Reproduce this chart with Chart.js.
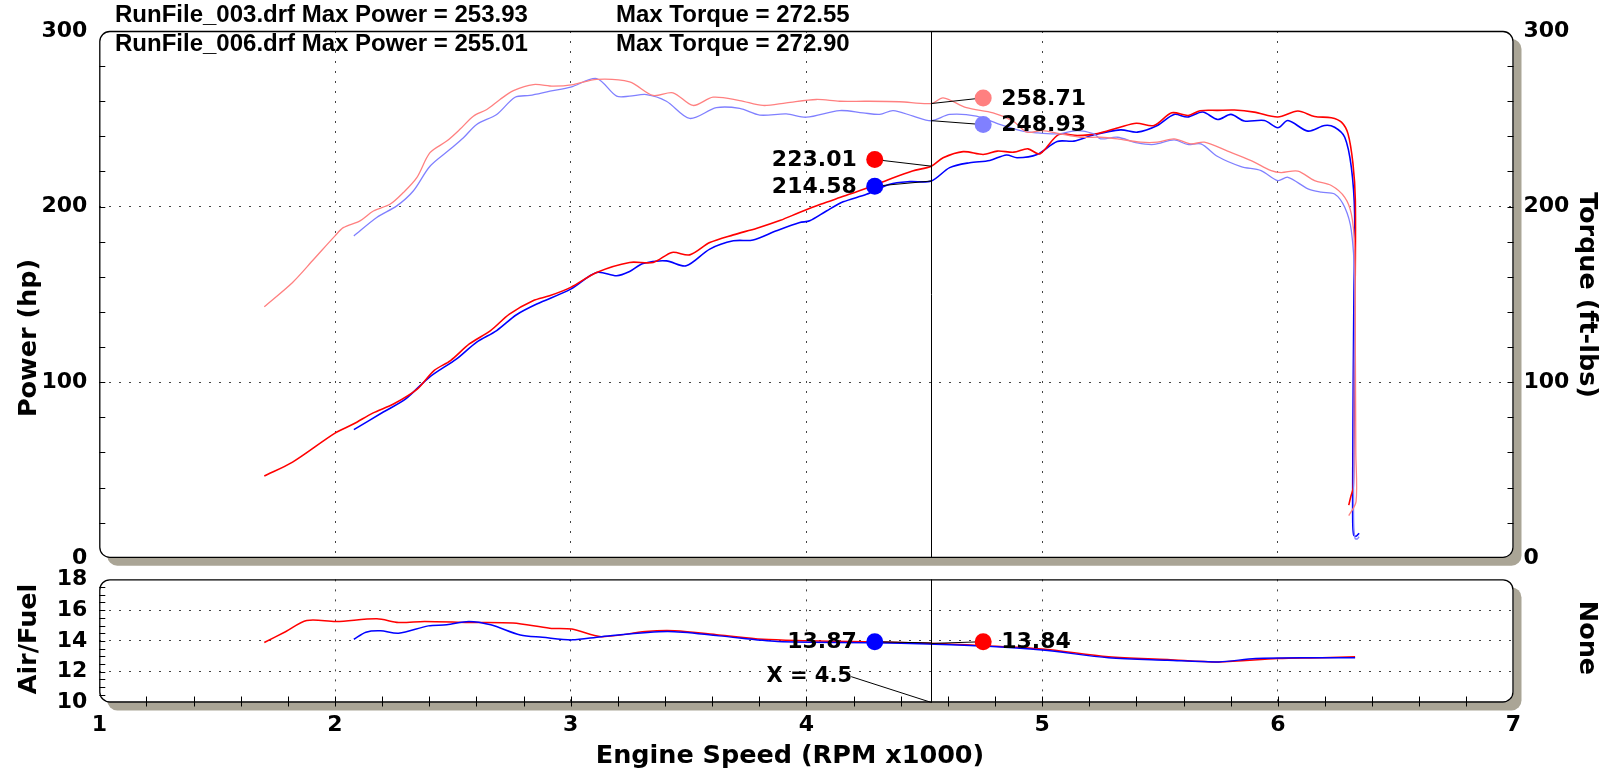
<!DOCTYPE html>
<html>
<head>
<meta charset="utf-8">
<title>Dyno Run Comparison</title>
<script src="https://cdn.jsdelivr.net/npm/chart.js@4.4.1/dist/chart.umd.min.js"></script>
<style>
  html, body { margin: 0; padding: 0; background: #fff; }
  #sheet { position: relative; width: 1608px; height: 770px; overflow: hidden; }
  canvas { position: absolute; left: 0; }
  #powerCanvas { top: 0; }
  #afrCanvas { top: 540px; }
</style>
</head>
<body>
<div id="sheet">
  <canvas id="powerCanvas" width="1608" height="583"></canvas>
  <canvas id="afrCanvas" width="1608" height="230"></canvas>
</div>
<script>
// Run info shown in the header
const runFiles = ["RunFile_003.drf", "RunFile_006.drf"];
const maxPower = ["253.93", "255.01"];
const maxTorque = ["272.55", "272.90"];

// Cursor readouts (at the vertical cursor line)
const cursorRpm = 4.53;
const cursorLabel = "4.5";
const torqueReadout = [258.71, 248.93];   // light red, light blue
const powerReadout = [223.01, 214.58];    // red, blue
const afrReadout = [13.87, 13.84];        // blue, red

// Red run - power (hp)
const redPowerRpm = [1.70, 1.82, 2.0, 2.08, 2.16, 2.25, 2.35, 2.42, 2.49, 2.57, 2.66, 2.74, 2.84, 2.91, 3.0, 3.11, 3.25, 3.35, 3.43, 3.505, 3.59, 3.69, 3.79, 3.89, 3.97, 4.06, 4.16, 4.26, 4.35, 4.45, 4.53, 4.58, 4.665, 4.75, 4.81, 4.88, 4.94, 4.99, 5.07, 5.15, 5.23, 5.33, 5.40, 5.475, 5.55, 5.62, 5.67, 5.745, 5.816, 5.90, 6.0, 6.085, 6.156, 6.227, 6.27, 6.298, 6.319, 6.329, 6.328, 6.325, 6.322, 6.32, 6.31, 6.301];
const redPower = [46.6, 54.5, 71, 76.3, 82.4, 87.7, 96.2, 106.6, 112.3, 121.8, 129.4, 138.8, 146.4, 149.2, 154, 162.5, 168.2, 168.2, 173.9, 172.5, 179.5, 183.9, 187.7, 192.2, 196.6, 201.3, 206, 210.8, 215.5, 220.3, 223.0, 227.8, 231.3, 229.7, 231.6, 231, 232.9, 230, 241, 240.5, 241.4, 245.2, 247.5, 246.2, 253.4, 251.9, 254.6, 254.8, 255.0, 253.8, 251, 254.4, 251.3, 250.6, 248.1, 241.4, 224.3, 203.4, 150, 100, 60, 40, 35, 30];

// Blue run - power (hp)
const bluePowerRpm = [2.08, 2.205, 2.30, 2.40, 2.516, 2.60, 2.686, 2.77, 2.856, 3.0, 3.11, 3.195, 3.25, 3.307, 3.406, 3.49, 3.59, 3.69, 3.774, 3.873, 3.972, 4.014, 4.085, 4.156, 4.255, 4.354, 4.438, 4.53, 4.608, 4.693, 4.778, 4.849, 4.894, 4.979, 5.064, 5.135, 5.22, 5.333, 5.404, 5.489, 5.56, 5.617, 5.681, 5.745, 5.801, 5.858, 5.943, 6.0, 6.043, 6.128, 6.199, 6.241, 6.284, 6.312, 6.326, 6.323, 6.32, 6.318, 6.318, 6.322, 6.332, 6.345];
const bluePower = [73, 83, 90.5, 102.8, 113.3, 122.7, 129.4, 138.4, 144.5, 153, 162.5, 160.6, 163, 167.6, 169.1, 166.3, 175.8, 180.5, 181, 186.2, 190.9, 191.9, 197.5, 202.7, 207, 212.7, 214.2, 214.6, 222.2, 225, 226.3, 229.4, 227.8, 229.7, 237.1, 237.3, 240.9, 243.7, 242.4, 246.2, 252.5, 251, 253.9, 249.6, 252.5, 248.7, 249, 244.9, 249, 243, 246.2, 245.2, 239.5, 222.4, 195.8, 150, 100, 50, 20, 13, 12.3, 14];

// Red run - torque (ft-lbs)
const redTorqueRpm = [1.70, 1.82, 1.91, 2.0, 2.035, 2.106, 2.163, 2.233, 2.29, 2.347, 2.403, 2.474, 2.53, 2.587, 2.644, 2.70, 2.757, 2.842, 2.926, 3.011, 3.11, 3.25, 3.349, 3.434, 3.519, 3.604, 3.717, 3.816, 3.915, 4.042, 4.141, 4.255, 4.396, 4.53, 4.58, 4.679, 4.792, 4.877, 4.936, 5.0, 5.078, 5.163, 5.248, 5.319, 5.418, 5.489, 5.56, 5.631, 5.688, 5.787, 5.887, 5.972, 6.014, 6.085, 6.156, 6.227, 6.284, 6.312, 6.326, 6.329, 6.331, 6.332, 6.301];
const redTorque = [143, 156.8, 170, 183.3, 188, 191.9, 197.5, 201.3, 208, 216.5, 230.7, 237.3, 244, 251.5, 255.3, 261, 266, 269.5, 268.6, 269.5, 272.5, 271, 263.3, 264.8, 257.6, 262.3, 260.4, 257.6, 259.1, 261, 260, 260, 259.7, 258.7, 261.9, 256.3, 253.4, 248.7, 242.4, 243.3, 241.4, 239.5, 239.5, 238.6, 236.7, 236.7, 238.6, 235.7, 236.7, 231.6, 226.2, 220.5, 219.4, 220.2, 214.8, 212, 205.3, 195.8, 176.8, 120, 60, 32, 24];

// Blue run - torque (ft-lbs)
const blueTorqueRpm = [2.08, 2.177, 2.262, 2.332, 2.403, 2.488, 2.545, 2.601, 2.686, 2.764, 2.827, 2.912, 3.0, 3.11, 3.195, 3.25, 3.321, 3.406, 3.505, 3.618, 3.717, 3.802, 3.915, 4.0, 4.141, 4.24, 4.311, 4.368, 4.453, 4.53, 4.608, 4.721, 4.82, 4.908, 4.976, 5.064, 5.149, 5.22, 5.248, 5.319, 5.404, 5.475, 5.56, 5.617, 5.674, 5.745, 5.844, 5.929, 6.0, 6.043, 6.128, 6.184, 6.241, 6.284, 6.312, 6.326, 6.324, 6.322, 6.322, 6.328, 6.338, 6.345];
const blueTorque = [183.3, 193.8, 200.4, 208.9, 223, 232.6, 239.2, 246.8, 252.5, 262.3, 263.3, 265.7, 268, 272.9, 262.9, 262.9, 263.8, 260, 250.2, 256.3, 255.9, 252.1, 252.8, 250.9, 254.7, 253.4, 252.5, 254.7, 251.5, 248.9, 252.5, 251.5, 246.8, 243.3, 242, 241.4, 243.3, 241.4, 238.6, 239.5, 236.3, 235.4, 238, 235.4, 235.7, 228.5, 222.8, 220.5, 214.8, 216.7, 210.1, 208.2, 207.2, 199.6, 186.3, 157.8, 100, 50, 20, 11, 10.8, 12];

// Air/Fuel ratio
const redAfrRpm = [1.70, 1.79, 1.88, 2.006, 2.178, 2.27, 2.38, 2.568, 2.755, 2.911, 3.005, 3.13, 3.317, 3.441, 3.629, 3.816, 4.003, 4.19, 4.518, 4.752, 5.001, 5.282, 5.532, 5.75, 6.0, 6.187, 6.328];
const redAfr = [13.9, 14.6, 15.33, 15.27, 15.44, 15.2, 15.27, 15.2, 15.16, 14.83, 14.77, 14.28, 14.61, 14.66, 14.39, 14.11, 14.02, 13.96, 13.85, 13.69, 13.47, 12.97, 12.8, 12.64, 12.86, 12.91, 12.97];
const blueAfrRpm = [2.08, 2.131, 2.193, 2.27, 2.396, 2.474, 2.568, 2.661, 2.786, 2.88, 3.005, 3.13, 3.41, 3.629, 3.878, 4.284, 4.518, 4.752, 5.001, 5.282, 5.532, 5.75, 5.906, 6.156, 6.328];
const blueAfr = [14.11, 14.57, 14.66, 14.5, 14.98, 15.05, 15.27, 15.05, 14.39, 14.24, 14.07, 14.28, 14.61, 14.33, 13.96, 13.89, 13.8, 13.67, 13.41, 12.91, 12.75, 12.64, 12.86, 12.91, 12.91];

const FONT = '"DejaVu Sans", Verdana, sans-serif';
const RED = "#ff0000", BLUE = "#0000ff", LIGHT_RED = "#ff8080", LIGHT_BLUE = "#8080ff";

Chart.defaults.font.family = FONT;

function toPoints(xs, ys) {
  return xs.map((x, i) => ({ x, y: ys[i] }));
}

function trace(xs, ys, color, axis, width) {
  return {
    data: toPoints(xs, ys),
    showLine: true,
    borderColor: color,
    backgroundColor: color,
    borderWidth: width,
    pointRadius: 0,
    tension: 0.3,
    yAxisID: axis
  };
}

// dotted grid, hidden on the panel edges
function edgeHidden(c) {
  const v = c.tick ? c.tick.value : null;
  if (v === null || v <= c.scale.min || v >= c.scale.max) return "rgba(0,0,0,0)";
  return "#444";
}

const tickFont = { family: FONT, size: 22, weight: "bold" };

function drawText(ctx, text, x, y, rot, font, align) {
  ctx.save();
  ctx.translate(x, y);
  ctx.rotate(rot);
  ctx.font = font;
  ctx.fillStyle = "#000";
  ctx.textAlign = align || "center";
  ctx.textBaseline = "middle";
  ctx.fillText(text, 0, 0);
  ctx.restore();
}

// 🖼 Frame, shadow, inner ticks, cursor and readouts
const dynoPanel = {
  id: "dynoPanel",
  beforeDraw(chart) {
    const { ctx, chartArea: a } = chart;
    ctx.save();
    ctx.fillStyle = "#aaa596";
    ctx.beginPath();
    ctx.roundRect(a.left + 8, a.top + 8, a.width, a.height, 10);
    ctx.fill();
    ctx.fillStyle = "#ffffff";
    ctx.beginPath();
    ctx.roundRect(a.left, a.top, a.width, a.height, 10);
    ctx.fill();
    ctx.restore();
  },
  afterDatasetsDraw(chart, args, opts) {
    const { ctx, chartArea: a, scales } = chart;
    ctx.save();

    // inner tick marks
    ctx.strokeStyle = "#000";
    ctx.lineWidth = 1;
    (opts.ticks || []).forEach(t => {
      const sc = scales[t.scale];
      const n = Math.round((sc.max - sc.min) / t.step);
      for (let i = 1; i < n; i++) {
        const p = Math.round(sc.getPixelForValue(sc.min + i * t.step)) + 0.5;
        ctx.beginPath();
        if (t.edge === "left") { ctx.moveTo(a.left, p); ctx.lineTo(a.left + t.len, p); }
        else if (t.edge === "right") { ctx.moveTo(a.right, p); ctx.lineTo(a.right - t.len, p); }
        else { ctx.moveTo(p, a.bottom - t.len); ctx.lineTo(p, a.bottom + t.out); }
        ctx.stroke();
      }
    });

    // frame
    ctx.lineWidth = 1.3;
    ctx.beginPath();
    ctx.roundRect(a.left + 0.5, a.top + 0.5, a.width - 1, a.height - 1, 10);
    ctx.stroke();

    // cursor line
    const cx = Math.round(scales.x.getPixelForValue(cursorRpm)) + 0.5;
    ctx.lineWidth = 1;
    ctx.beginPath();
    ctx.moveTo(cx, a.top);
    ctx.lineTo(cx, a.bottom);
    ctx.stroke();

    // readout markers
    (opts.marks || []).forEach(m => {
      const sc = scales[m.scale];
      const px = scales.x.getPixelForValue(m.x);
      const py = sc.getPixelForValue(m.y);
      const ly = sc.getPixelForValue(m.value);
      ctx.strokeStyle = "#000";
      ctx.lineWidth = 1;
      ctx.beginPath();
      ctx.moveTo(cx, ly);
      ctx.lineTo(px, py);
      ctx.stroke();
      ctx.fillStyle = m.color;
      ctx.beginPath();
      ctx.arc(px, py, 8.5, 0, Math.PI * 2);
      ctx.fill();
      drawText(ctx, m.value.toFixed(2), px + m.side * 18, py + 1, 0,
        "bold 22px " + FONT, m.side > 0 ? "left" : "right");
    });

    // "X = 4.5" callout
    if (opts.cursorNote) {
      const n = opts.cursorNote;
      const sc = scales[n.scale];
      const tx = scales.x.getPixelForValue(n.x);
      const ty = sc.getPixelForValue(n.y);
      drawText(ctx, n.text, tx, ty, 0, "bold 21px " + FONT, "center");
      ctx.strokeStyle = "#000";
      ctx.beginPath();
      ctx.moveTo(scales.x.getPixelForValue(n.lineFrom), ty);
      ctx.lineTo(cx, a.bottom);
      ctx.stroke();
    }
    ctx.restore();
  },
  afterDraw(chart, args, opts) {
    const ctx = chart.ctx;
    (opts.titles || []).forEach(t => {
      drawText(ctx, t.text, t.x, t.y, t.rot, "bold 25.5px " + FONT, "center");
    });
    (opts.header || []).forEach(h => {
      ctx.save();
      ctx.font = 'bold 24px "Liberation Sans", Arial, sans-serif';
      ctx.fillStyle = "#000";
      ctx.textBaseline = "alphabetic";
      ctx.fillText(h.text, h.x, h.y);
      ctx.restore();
    });
  }
};

// 📈 Power / torque panel
new Chart(document.getElementById("powerCanvas"), {
  type: "scatter",
  data: {
    datasets: [
      trace(redTorqueRpm, redTorque, LIGHT_RED, "yTq", 1.3),
      trace(blueTorqueRpm, blueTorque, LIGHT_BLUE, "yTq", 1.3),
      trace(redPowerRpm, redPower, RED, "y", 1.6),
      trace(bluePowerRpm, bluePower, BLUE, "y", 1.6)
    ]
  },
  options: {
    responsive: false,
    animation: false,
    layout: { padding: { top: 31, left: 0, right: 0, bottom: 0 } },
    plugins: {
      legend: { display: false },
      tooltip: { enabled: false },
      dynoPanel: {
        ticks: [
          { scale: "y", edge: "left", step: 20, len: 6 },
          { scale: "yTq", edge: "right", step: 20, len: 6 }
        ],
        marks: [
          { x: 4.75, y: 261.9, scale: "yTq", value: torqueReadout[0], color: LIGHT_RED, side: 1 },
          { x: 4.75, y: 246.7, scale: "yTq", value: torqueReadout[1], color: LIGHT_BLUE, side: 1 },
          { x: 4.29, y: 226.8, scale: "y", value: powerReadout[0], color: RED, side: -1 },
          { x: 4.29, y: 211.6, scale: "y", value: powerReadout[1], color: BLUE, side: -1 }
        ],
        titles: [
          { text: "Power (hp)", x: 29, y: 338, rot: -Math.PI / 2 },
          { text: "Torque (ft-lbs)", x: 1587, y: 295, rot: Math.PI / 2 }
        ],
        header: [
          { text: runFiles[0] + " Max Power = " + maxPower[0], x: 115, y: 22 },
          { text: "Max Torque = " + maxTorque[0], x: 616, y: 22 },
          { text: runFiles[1] + " Max Power = " + maxPower[1], x: 115, y: 51 },
          { text: "Max Torque = " + maxTorque[1], x: 616, y: 51 }
        ]
      }
    },
    scales: {
      x: {
        type: "linear", min: 1, max: 7,
        ticks: { display: false, stepSize: 1 },
        grid: { color: edgeHidden, drawTicks: false },
        border: { display: false, dash: [2, 8] },
        afterFit: s => { s.height = 15; }
      },
      y: {
        position: "left", min: 0, max: 300,
        ticks: { stepSize: 100, font: tickFont, color: "#000", padding: 12 },
        grid: { color: edgeHidden, drawTicks: false },
        border: { display: false, dash: [2, 8] },
        afterFit: s => { s.width = 99.3; }
      },
      yTq: {
        position: "right", min: 0, max: 300,
        ticks: { stepSize: 100, font: tickFont, color: "#000", padding: 10 },
        grid: { display: false, drawTicks: false },
        border: { display: false },
        afterFit: s => { s.width = 94.5; }
      }
    }
  },
  plugins: [dynoPanel]
});

// ⛽ Air/Fuel panel
new Chart(document.getElementById("afrCanvas"), {
  type: "scatter",
  data: {
    datasets: [
      trace(blueAfrRpm, blueAfr, BLUE, "y", 1.5),
      trace(redAfrRpm, redAfr, RED, "y", 1.5)
    ]
  },
  options: {
    responsive: false,
    animation: false,
    layout: { padding: { top: 39.4, left: 0, right: 0, bottom: 0 } },
    plugins: {
      legend: { display: false },
      tooltip: { enabled: false },
      dynoPanel: {
        ticks: [
          { scale: "y", edge: "left", step: 0.5, len: 6 },
          { scale: "x", edge: "bottom", step: 0.2, len: 6, out: 4 }
        ],
        marks: [
          { x: 4.29, y: 13.95, scale: "y", value: afrReadout[0], color: BLUE, side: -1 },
          { x: 4.75, y: 13.95, scale: "y", value: afrReadout[1], color: RED, side: 1 }
        ],
        cursorNote: { text: "X = " + cursorLabel, x: 4.012, y: 11.68, lineFrom: 4.19, scale: "y" },
        titles: [
          { text: "Air/Fuel", x: 29, y: 99, rot: -Math.PI / 2 },
          { text: "None", x: 1587, y: 98, rot: Math.PI / 2 },
          { text: "Engine Speed (RPM x1000)", x: 790, y: 216, rot: 0 }
        ]
      }
    },
    scales: {
      x: {
        type: "linear", min: 1, max: 7,
        ticks: { stepSize: 1, font: tickFont, color: "#000", padding: 10 },
        grid: { color: edgeHidden, drawTicks: false },
        border: { display: false, dash: [2, 8] },
        afterFit: s => { s.height = 67.5; }
      },
      y: {
        position: "left", min: 10, max: 18,
        ticks: { stepSize: 2, font: tickFont, color: "#000", padding: 12 },
        grid: { color: edgeHidden, drawTicks: false },
        border: { display: false, dash: [2, 8] },
        afterFit: s => { s.width = 99.3; }
      },
      yNone: {
        type: "linear", position: "right", min: 0, max: 1,
        ticks: { display: false },
        grid: { display: false, drawTicks: false },
        border: { display: false },
        afterFit: s => { s.width = 94.5; }
      }
    }
  },
  plugins: [dynoPanel]
});
</script>
</body>
</html>
